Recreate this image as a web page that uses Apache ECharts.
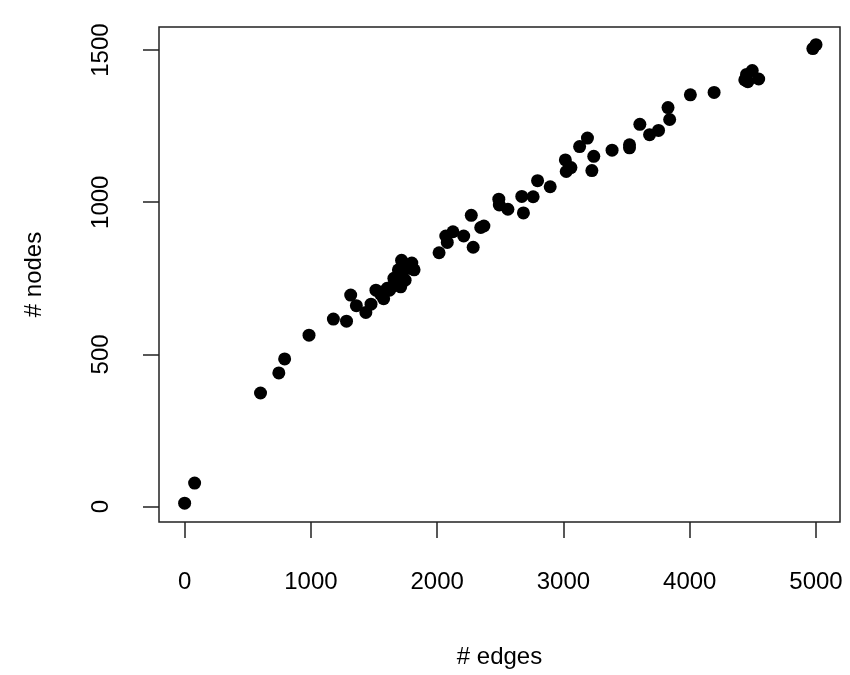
<!DOCTYPE html>
<html>
<head>
<meta charset="utf-8">
<style>html,body{margin:0;padding:0;background:#fff;}#chart{width:850px;height:675px;}</style>
<script src="https://cdn.jsdelivr.net/npm/echarts@6/dist/echarts.min.js"></script>
</head>
<body>
<div id="chart"></div>
<script>
var edges = [0,79,601,746,792,985,1178,1282,1315,1360,1435,1476,
  1515,1551,1576,1604,1640,1668,1693,1711,1728,1746,1782,1817,1718,1764,1693,1657,1622,1569,1711,1746,1799,
  2015,2068,2125,2080,2210,2270,2285,2345,2370,2488,2492,2560,2670,2683,2760,2795,2895,
  3015,3022,3059,3128,3190,3225,3240,3385,3523,3523,3605,3682,3753,3828,3841,
  4005,4193,4436,4450,4495,4546,4460,4975,5000];
var nodes = [11,77,373,439,485,563,616,609,695,660,638,665,
  711,698,683,717,722,733,744,755,772,789,783,778,809,794,778,750,711,705,722,744,800,
  834,889,903,868,889,957,852,917,922,1010,991,977,1019,965,1018,1071,1051,
  1139,1101,1114,1183,1211,1104,1151,1171,1189,1179,1256,1222,1236,1311,1272,
  1353,1361,1402,1420,1433,1405,1396,1505,1518];
var xTicks = [0,1000,2000,3000,4000,5000];
var yTicks = [0,500,1000,1500];

var pts = edges.map(function(e,i){return [e,nodes[i]];});
var font = 'Liberation Sans, Arial, sans-serif';
var plain = function(v){return String(v);};
var chart = echarts.init(document.getElementById('chart'), null, {renderer:'canvas'});
chart.setOption({
  animation:false,
  backgroundColor:'#fff',
  grid:{left:159,right:10,top:27,bottom:153,show:true,borderColor:'#222',borderWidth:1.5,containLabel:false},
  xAxis:{type:'value',min:-203,max:5190,
    name:'# edges',nameLocation:'middle',nameGap:123,
    nameTextStyle:{fontFamily:font,fontSize:24,color:'#000'},
    axisLine:{show:false,onZero:false},splitLine:{show:false},
    axisTick:{show:true,inside:false,length:16,customValues:xTicks,lineStyle:{color:'#222',width:1.5}},
    axisLabel:{customValues:xTicks,formatter:plain,margin:48,fontFamily:font,fontSize:24,color:'#000'}},
  yAxis:{type:'value',min:-51,max:1576,
    name:'# nodes',nameLocation:'middle',nameGap:113,nameRotate:90,
    nameTextStyle:{fontFamily:font,fontSize:24,color:'#000'},
    axisLine:{show:false,onZero:false},splitLine:{show:false},
    axisTick:{show:true,inside:false,length:16,customValues:yTicks,lineStyle:{color:'#222',width:1.5}},
    axisLabel:{customValues:yTicks,formatter:plain,rotate:90,margin:46,fontFamily:font,fontSize:24,color:'#000'}},
  series:[{type:'scatter',data:pts,symbol:'circle',symbolSize:13,itemStyle:{color:'#000',opacity:1}}]
});
</script>
</body>
</html>
